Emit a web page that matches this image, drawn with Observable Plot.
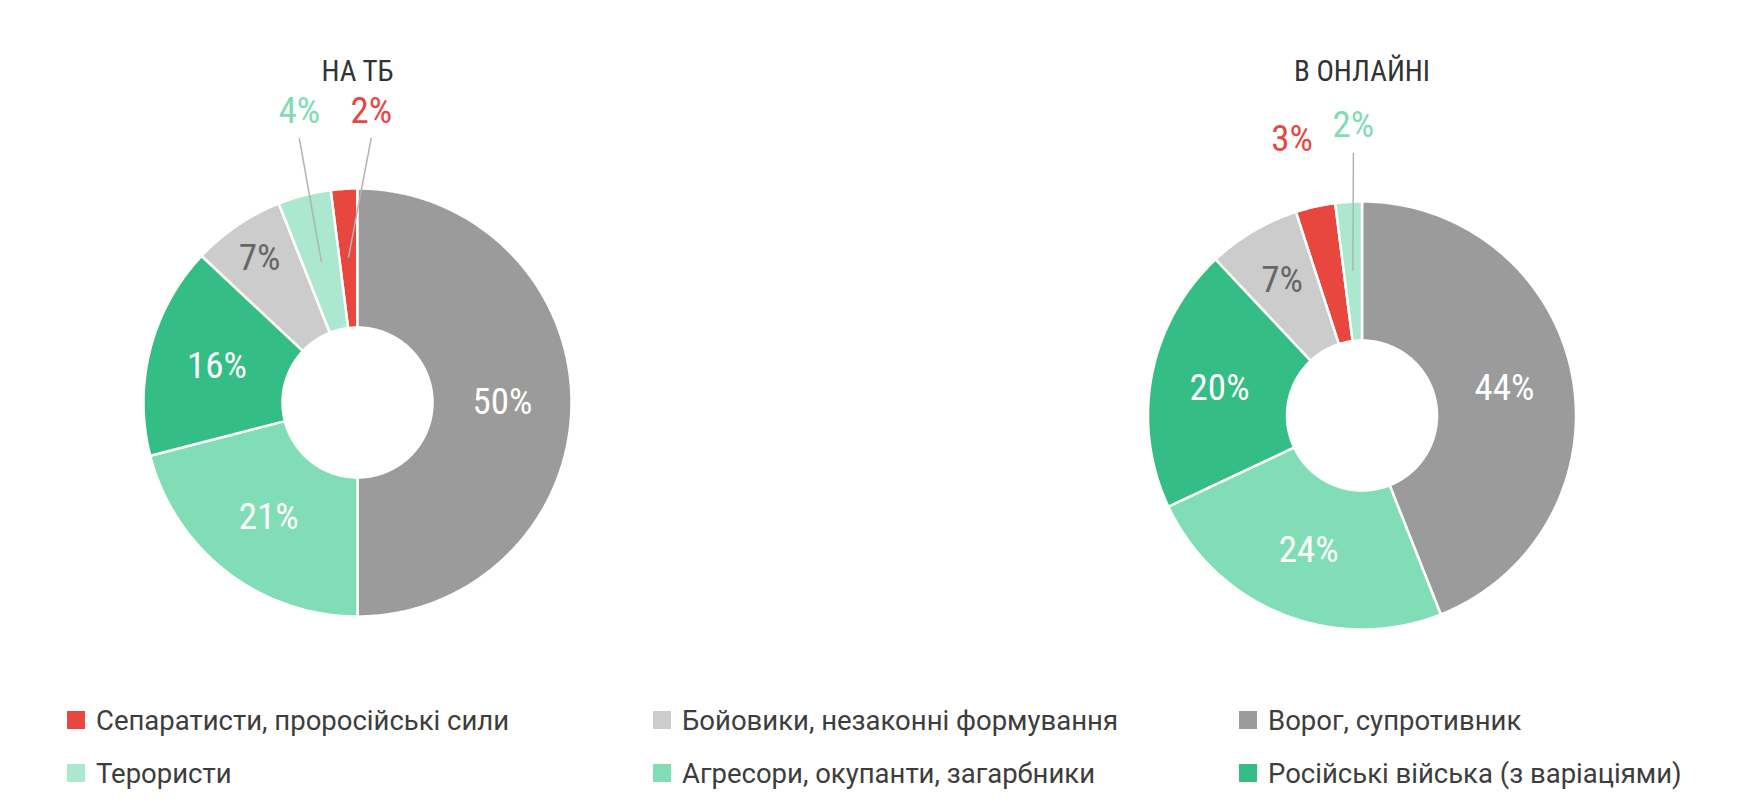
<!DOCTYPE html>
<html>
<head>
<meta charset="utf-8">
<script src="https://cdn.jsdelivr.net/npm/d3@7"></script>
<script src="https://cdn.jsdelivr.net/npm/@observablehq/plot@0.6"></script>
<style>
  body { margin: 0; background: #fff; }
  #wrap { position: relative; width: 1751px; height: 810px; }
  #legend { position: absolute; left: 0; top: 650px; width: 1751px; height: 160px; font-family: Roboto, sans-serif; }
  .item { position: absolute; display: flex; align-items: center; height: 32px; font-size: 27.5px; color: #3d3d3d; white-space: nowrap; }
  .sw { width: 18px; height: 18px; margin-right: 11px; flex: none; }
</style>
</head>
<body>
<div id="wrap"><div id="chart"></div><div id="legend"></div></div>
<script>
// ---- data ----
const categories = [
  "Сепаратисти, проросійські сили",
  "Бойовики, незаконні формування",
  "Ворог, супротивник",
  "Терористи",
  "Агресори, окупанти, загарбники",
  "Російські війська (з варіаціями)"
];
const colors = ["#e8473f", "#cccccc", "#9b9b9b", "#abe8cf", "#80ddb6", "#34bd84"];
const tvValues = [2, 7, 50, 4, 21, 16];
const onlineValues = [3, 7, 44, 2, 24, 20];
const pieTitles = ["НА ТБ", "В ОНЛАЙНІ"];

// ---- layout ----
const W = 1751, H = 650;
const pies = [{cx: 357, cy: 402}, {cx: 1361.5, cy: 415}];
const outerR = 214, innerR = 75, labelR = 145, titleY = 71;
const condensed = "'Roboto Condensed', 'Liberation Sans Narrow', 'DejaVu Sans Condensed', Roboto, sans-serif";
const labelSize = 37, titleSize = 29;
// per-pie overrides for inside label radius
const insideRadius = [{"Бойовики, незаконні формування": 174}, {"Бойовики, незаконні формування": 157}];
// outside labels: polar placement (deg, px) and whether a leader line is drawn
const outside = [
  {"Терористи": {deg: 348.7, r: 297, leader: true}, "Сепаратисти, проросійські сили": {deg: 2.7, r: 292, leader: true}},
  {"Сепаратисти, проросійські сили": {deg: 345.8, r: 285, leader: false}, "Терористи": {deg: 358.3, r: 290, leader: true}}
];
const outsideColor = {"Терористи": "#7fdcb5", "Сепаратисти, проросійські сили": "#e8473f"};

// ---- geometry via d3.pie ----
const pie = d3.pie().value(d => d.value); // sorted descending, clockwise from 12 o'clock
const slicePts = [], insideLabels = [], outsideLabels = [], leaders = [], titles = [];
[tvValues, onlineValues].forEach((vals, p) => {
  const {cx, cy} = pies[p];
  titles.push({x: cx, y: titleY, text: pieTitles[p]});
  const arcs = pie(categories.map((c, i) => ({cat: c, value: vals[i]})));
  arcs.forEach(a => {
    const key = p + "|" + a.data.cat;
    const n = Math.max(2, Math.ceil((a.endAngle - a.startAngle) / 0.01));
    for (let k = 0; k <= n; k++) {
      const t = a.startAngle + (a.endAngle - a.startAngle) * k / n;
      slicePts.push({key, cat: a.data.cat, x: cx + outerR * Math.sin(t), y: cy - outerR * Math.cos(t)});
    }
    for (let k = n; k >= 0; k--) {
      const t = a.startAngle + (a.endAngle - a.startAngle) * k / n;
      slicePts.push({key, cat: a.data.cat, x: cx + innerR * Math.sin(t), y: cy - innerR * Math.cos(t)});
    }
    const mid = (a.startAngle + a.endAngle) / 2;
    const text = a.data.value + "%";
    const o = outside[p][a.data.cat];
    if (o) {
      const t = o.deg * Math.PI / 180;
      const lx = cx + o.r * Math.sin(t), ly = cy - o.r * Math.cos(t);
      outsideLabels.push({x: lx, y: ly, text, cat: a.data.cat});
      if (o.leader) leaders.push({x1: lx, y1: ly + 27, x2: cx + labelR * Math.sin(mid), y2: cy - labelR * Math.cos(mid)});
    } else {
      const r = insideRadius[p][a.data.cat] || labelR;
      insideLabels.push({x: cx + r * Math.sin(mid), y: cy - r * Math.cos(mid), text, cat: a.data.cat});
    }
  });
});

const chart = Plot.plot({
  width: W, height: H, margin: 0,
  style: {background: "#fff"},
  x: {domain: [0, W], range: [0, W], axis: null},
  y: {domain: [0, H], range: [0, H], axis: null},
  color: {domain: categories, range: colors},
  marks: [
    Plot.line(slicePts, {x: "x", y: "y", z: "key", fill: "cat", stroke: "white", strokeWidth: 2.5, curve: "linear-closed"}),
    Plot.link(leaders, {x1: "x1", y1: "y1", x2: "x2", y2: "y2", stroke: "#b3b3b3", strokeWidth: 1.5}),
    Plot.text(insideLabels.filter(d => d.cat !== "Бойовики, незаконні формування"), {x: "x", y: "y", text: "text", fill: "white", fontSize: labelSize, fontFamily: condensed}),
    Plot.text(insideLabels.filter(d => d.cat === "Бойовики, незаконні формування"), {x: "x", y: "y", text: "text", fill: "#666", fontSize: labelSize, fontFamily: condensed}),
    Plot.text(outsideLabels.filter(d => d.cat === "Терористи"), {x: "x", y: "y", text: "text", fill: outsideColor["Терористи"], fontSize: labelSize, fontFamily: condensed}),
    Plot.text(outsideLabels.filter(d => d.cat !== "Терористи"), {x: "x", y: "y", text: "text", fill: outsideColor["Сепаратисти, проросійські сили"], fontSize: labelSize, fontFamily: condensed}),
    Plot.text(titles, {x: "x", y: "y", text: "text", fill: "#333", fontSize: titleSize, fontFamily: condensed})
  ]
});
document.getElementById("chart").appendChild(chart);

// ---- legend (HTML, below the SVG) ----
const legend = document.getElementById("legend");
categories.forEach((c, i) => {
  const col = i % 3, row = Math.floor(i / 3);
  const item = document.createElement("div");
  item.className = "item";
  item.style.left = (67 + col * 586) + "px";
  item.style.top = (54 + row * 53) + "px";
  const sw = document.createElement("span");
  sw.className = "sw";
  sw.style.background = colors[i];
  const label = document.createElement("span");
  label.textContent = c;
  item.appendChild(sw);
  item.appendChild(label);
  legend.appendChild(item);
});
</script>
</body>
</html>
